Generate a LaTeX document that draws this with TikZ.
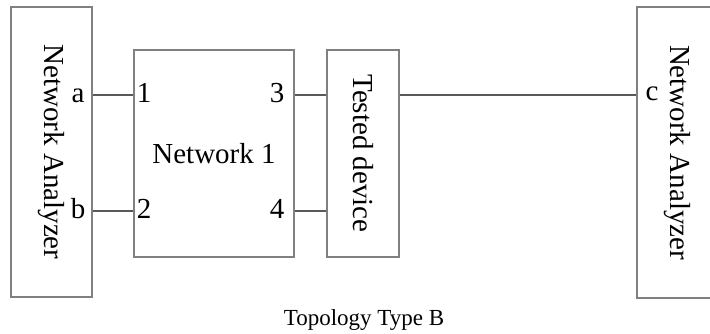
\documentclass[tikz,border=0pt]{standalone}
\usepackage{fontspec}
\setmainfont{Liberation Serif}
\usepackage{graphicx}

\begin{document}
\begin{tikzpicture}[x=1pt, y=-1pt,
	box/.style={draw=black!50, line width=1.3pt, rectangle, text centered, inner sep=0pt,
	font=\fontsize{29}{34}\selectfont},
	port/.style={inner sep=0pt, anchor=base, font=\fontsize{29}{34}\selectfont},
	link/.style={draw=black!65, line width=1.5pt}]
		
		%Page frame
		\useasboundingbox (0,0) rectangle (710,334);
		\clip (0,0) rectangle (710,334);
		\fill[white] (0,0) rectangle (710,334);
		
		%Nodes
		\node (analyzerL) at (51.5,152) [box, minimum width=81, minimum height=290]{\rotatebox{-90}{Network Analyzer}};
		\node (network) at (214,153.5) [box, minimum width=160, minimum height=207]{Network 1};
		\node (tested) at (363,153.5) [box, minimum width=72, minimum height=207]{\rotatebox{-90}{Tested device}};
		\node (analyzerR) at (677.5,152.5) [box, minimum width=81, minimum height=291]{\rotatebox{-90}{Network Analyzer}};
		
		%Port labels
		\node (portA) at (78,102.5) [port]{a};
		\node (portB) at (78,218.5) [port]{b};
		\node (port1) at (144,102.5) [port]{1};
		\node (port2) at (144,218.5) [port]{2};
		\node (port3) at (277,102.5) [port]{3};
		\node (port4) at (277,218.5) [port]{4};
		\node (portC) at (652,100.7) [port]{c};
		
		%Rows of the links
		\coordinate (rowTop) at (0,95);
		\coordinate (rowBot) at (0,211);
		
		%Links
		\draw[link] (analyzerL.east |- rowTop) -- (network.west |- rowTop);
		\draw[link] (analyzerL.east |- rowBot) -- (network.west |- rowBot);
		\draw[link] (network.east |- rowTop) -- (tested.west |- rowTop);
		\draw[link] (network.east |- rowBot) -- (tested.west |- rowBot);
		\draw[link] (tested.east |- rowTop) -- (analyzerR.west |- rowTop);
		
		%Caption
		\node (caption) at (364,325) [anchor=base, inner sep=0pt, font=\fontsize{23}{27}\selectfont]{Topology Type B};
		
		\end{tikzpicture}
\end{document}
